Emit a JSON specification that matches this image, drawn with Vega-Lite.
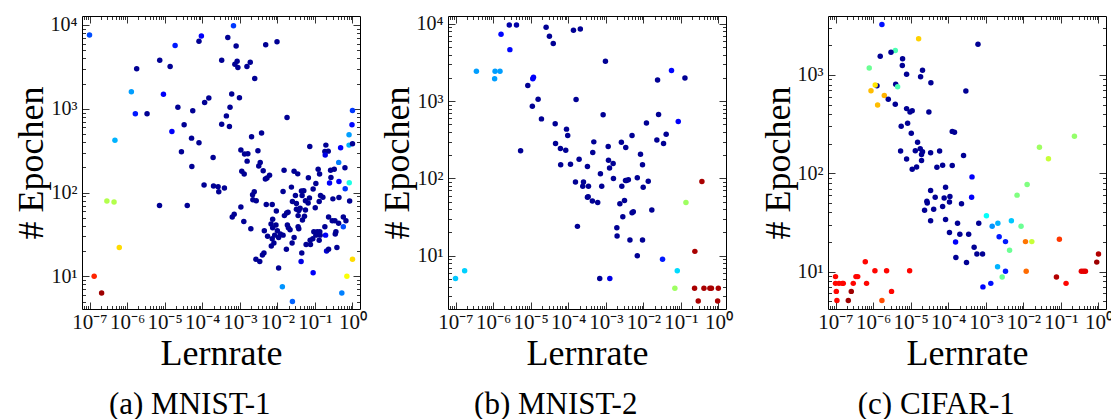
{
  "$schema": "https://vega.github.io/schema/vega-lite/v6.json",
  "background": "white",
  "padding": {"left": 12, "top": 13, "right": 0, "bottom": 0},
  "config": {
    "view": {"stroke": "black", "strokeWidth": 1},
    "axis": {"grid": false, "domain": false, "tickColor": "black", "tickWidth": 0.8, "labelFont": "Liberation Serif", "labelFontSize": 21, "labelColor": "#111111", "titleFont": "Liberation Serif", "titleFontSize": 36, "titleFontWeight": "normal", "titleColor": "black", "labelOverlap": false, "labelFlush": false, "labelBound": false},
    "axisBottom": {"labelPadding": 9, "titleY": 55, "titleBaseline": "alphabetic"},
    "axisLeft": {"labelPadding": 12, "titlePadding": 0, "labelFontSize": 20},
    "title": {"orient": "bottom", "anchor": "middle", "frame": "bounds", "font": "Liberation Serif", "fontSize": 31, "fontWeight": "normal", "color": "black", "baseline": "alphabetic", "offset": 19}
  },
  "datasets": {
    "mnist1": [
      {"lr":1e-7,"epochs":7600,"score":0.2},{"lr":6.8e-4,"epochs":9800,"score":0.18},{"lr":9.5e-5,"epochs":7400,"score":0.12},{"lr":8.2e-5,"epochs":6400,"score":0.02},{"lr":4.8e-4,"epochs":7100,"score":0.02},{"lr":1.9e-5,"epochs":5700,"score":0.15},{"lr":8.0e-4,"epochs":5600,"score":0.02},{"lr":4.9e-3,"epochs":5800,"score":0.02},{"lr":9.8e-3,"epochs":6300,"score":0.02},{"lr":7.4e-6,"epochs":3800,"score":0.02},{"lr":1.4e-5,"epochs":3200,"score":0.02},{"lr":1.8e-6,"epochs":3000,"score":0.02},{"lr":3.3e-4,"epochs":3800,"score":0.02},{"lr":8.5e-4,"epochs":3700,"score":0.02},{"lr":7.4e-4,"epochs":3400,"score":0.02},{"lr":8.9e-4,"epochs":3100,"score":0.02},{"lr":1.55e-3,"epochs":3200,"score":0.02},{"lr":1.9e-3,"epochs":3600,"score":0.02},{"lr":2.5e-3,"epochs":2300,"score":0.02},{"lr":1.3e-6,"epochs":1600,"score":0.28},{"lr":9.3e-6,"epochs":1490,"score":0.12},{"lr":1.5e-4,"epochs":1340,"score":0.02},{"lr":1.16e-4,"epochs":1190,"score":0.02},{"lr":6.1e-4,"epochs":1500,"score":0.02},{"lr":9.8e-4,"epochs":1350,"score":0.02},{"lr":2.25e-5,"epochs":1040,"score":0.02},{"lr":5.5e-4,"epochs":1040,"score":0.02},{"lr":1.66e-6,"epochs":870,"score":0.15},{"lr":3.4e-6,"epochs":870,"score":0.02},{"lr":5.6e-5,"epochs":944,"score":0.02},{"lr":4.4e-4,"epochs":822,"score":0.02},{"lr":1.0,"epochs":952,"score":0.18},{"lr":3.3e-5,"epochs":643,"score":0.02},{"lr":3.3e-4,"epochs":655,"score":0.02},{"lr":5.3e-4,"epochs":614,"score":0.02},{"lr":4.75e-7,"epochs":422,"score":0.3},{"lr":1.56e-5,"epochs":535,"score":0.12},{"lr":5.2e-5,"epochs":446,"score":0.02},{"lr":8.2e-5,"epochs":392,"score":0.02},{"lr":1.95e-4,"epochs":262,"score":0.02},{"lr":2.8e-5,"epochs":306,"score":0.02},{"lr":5.3e-5,"epochs":205,"score":0.02},{"lr":2.9e-7,"epochs":79,"score":0.55},{"lr":4.5e-7,"epochs":77,"score":0.55},{"lr":7.3e-6,"epochs":70,"score":0.02},{"lr":4.0e-5,"epochs":70,"score":0.02},{"lr":6.2e-7,"epochs":22,"score":0.66},{"lr":1.33e-7,"epochs":10,"score":0.84},{"lr":2.1e-7,"epochs":6.3,"score":0.97},{"lr":1.12e-4,"epochs":123,"score":0.02},{"lr":2.0e-4,"epochs":120,"score":0.02},{"lr":2.65e-4,"epochs":117,"score":0.02},{"lr":3.9e-4,"epochs":113,"score":0.02},{"lr":2.76e-4,"epochs":102,"score":0.02},
      {"lr":0.0181,"epochs":787,"score":0.02},{"lr":0.97,"epochs":643,"score":0.13},{"lr":0.81,"epochs":489,"score":0.28},{"lr":3.8e-3,"epochs":512,"score":0.02},{"lr":2.06e-3,"epochs":462,"score":0.02},{"lr":1.07e-3,"epochs":321,"score":0.02},{"lr":1.34e-3,"epochs":288,"score":0.02},{"lr":1.64e-3,"epochs":290,"score":0.02},{"lr":3.04e-3,"epochs":315,"score":0.02},{"lr":1.57e-3,"epochs":237,"score":0.02},{"lr":0.073,"epochs":355,"score":0.02},{"lr":0.196,"epochs":368,"score":0.02},{"lr":0.226,"epochs":312,"score":0.02},{"lr":0.184,"epochs":309,"score":0.02},{"lr":0.188,"epochs":280,"score":0.1},{"lr":0.483,"epochs":342,"score":0.12},{"lr":0.81,"epochs":368,"score":0.3},{"lr":1.0,"epochs":382,"score":0.02},{"lr":0.43,"epochs":229,"score":0.25},{"lr":3.5e-3,"epochs":229,"score":0.02},{"lr":3.2e-3,"epochs":207,"score":0.02},{"lr":1.13e-3,"epochs":179,"score":0.02},{"lr":1.31e-3,"epochs":166,"score":0.02},{"lr":4.2e-3,"epochs":182,"score":0.02},{"lr":0.0151,"epochs":185,"score":0.02},{"lr":0.0279,"epochs":179,"score":0.02},{"lr":0.0349,"epochs":167,"score":0.02},{"lr":6.2e-3,"epochs":161,"score":0.02},{"lr":5.3e-3,"epochs":149,"score":0.02},{"lr":4.8e-3,"epochs":145,"score":0.02},{"lr":0.122,"epochs":190,"score":0.02},{"lr":0.133,"epochs":166,"score":0.02},{"lr":0.261,"epochs":184,"score":0.02},{"lr":0.327,"epochs":190,"score":0.02},{"lr":0.63,"epochs":198,"score":0.02},{"lr":0.067,"epochs":150,"score":0.02},{"lr":0.267,"epochs":151,"score":0.02},{"lr":0.106,"epochs":128,"score":0.02},{"lr":0.245,"epochs":130,"score":0.12},{"lr":0.436,"epochs":135,"score":0.12},{"lr":0.82,"epochs":131,"score":0.4},{"lr":0.64,"epochs":111,"score":0.18},{"lr":0.0237,"epochs":116,"score":0.02},{"lr":0.0142,"epochs":103,"score":0.02},{"lr":0.0897,"epochs":110,"score":0.02},{"lr":0.0438,"epochs":104,"score":0.02},{"lr":0.0506,"epochs":105,"score":0.02},{"lr":2.43e-3,"epochs":102,"score":0.02},{"lr":2.19e-3,"epochs":94,"score":0.02},{"lr":2.23e-3,"epochs":82,"score":0.02},{"lr":2.74e-3,"epochs":80,"score":0.02},{"lr":0.0303,"epochs":92,"score":0.02},{"lr":0.0456,"epochs":92,"score":0.02},{"lr":0.056,"epochs":80,"score":0.02},{"lr":0.0716,"epochs":86,"score":0.02},{"lr":0.141,"epochs":92,"score":0.02},{"lr":0.163,"epochs":88,"score":0.02},{"lr":0.13,"epochs":78,"score":0.02},{"lr":0.301,"epochs":84,"score":0.02},{"lr":0.436,"epochs":87,"score":0.02},{"lr":0.84,"epochs":79,"score":0.02},{"lr":0.0252,"epochs":78,"score":0.02},{"lr":0.0322,"epochs":74,"score":0.02},{"lr":0.066,"epochs":75,"score":0.02},{"lr":5.07e-3,"epochs":72,"score":0.02},{"lr":7.3e-3,"epochs":72,"score":0.02},{"lr":1.07e-3,"epochs":67,"score":0.02},{"lr":0.0322,"epochs":63,"score":0.02},{"lr":0.0404,"epochs":65,"score":0.02},{"lr":0.056,"epochs":62,"score":0.02},{"lr":0.0193,"epochs":58,"score":0.02},{"lr":0.0372,"epochs":61,"score":0.02},{"lr":9.4e-3,"epochs":60,"score":0.02},{"lr":0.102,"epochs":66,"score":0.02},{"lr":7.1e-4,"epochs":55,"score":0.02},{"lr":6.3e-4,"epochs":51,"score":0.02},{"lr":1.28e-3,"epochs":45,"score":0.02},{"lr":0.0154,"epochs":53,"score":0.02},{"lr":0.0177,"epochs":57,"score":0.02},{"lr":0.0357,"epochs":53,"score":0.02},{"lr":0.0527,"epochs":52,"score":0.02},{"lr":0.0466,"epochs":47,"score":0.02},{"lr":7.5e-3,"epochs":48,"score":0.02},{"lr":6.8e-3,"epochs":42,"score":0.02},{"lr":9.2e-3,"epochs":41,"score":0.02},{"lr":0.0185,"epochs":41,"score":0.02},{"lr":0.0197,"epochs":38,"score":0.02},{"lr":0.0218,"epochs":36,"score":0.02},{"lr":0.0357,"epochs":39,"score":0.02},{"lr":0.0372,"epochs":37,"score":0.02},{"lr":0.231,"epochs":51,"score":0.02},{"lr":0.289,"epochs":46,"score":0.02},{"lr":0.341,"epochs":46,"score":0.02},{"lr":0.428,"epochs":43,"score":0.02},{"lr":0.57,"epochs":51,"score":0.02},{"lr":0.67,"epochs":46,"score":0.02},{"lr":0.57,"epochs":39,"score":0.2},{"lr":0.184,"epochs":39,"score":0.02},{"lr":1.97e-3,"epochs":37,"score":0.02},{"lr":4.5e-3,"epochs":35,"score":0.02},{"lr":7.5e-3,"epochs":38,"score":0.02},{"lr":0.01,"epochs":35,"score":0.02},{"lr":0.012,"epochs":32,"score":0.02},{"lr":0.0142,"epochs":31,"score":0.02},{"lr":0.0108,"epochs":29,"score":0.02},{"lr":8.5e-3,"epochs":31,"score":0.02},{"lr":5.5e-3,"epochs":30,"score":0.02},{"lr":0.0935,"epochs":34,"score":0.02},{"lr":0.115,"epochs":34,"score":0.02},{"lr":0.135,"epochs":34,"score":0.02},{"lr":0.106,"epochs":31,"score":0.02},{"lr":0.138,"epochs":31,"score":0.02},{"lr":0.362,"epochs":34,"score":0.02},{"lr":0.348,"epochs":32,"score":0.02},{"lr":0.192,"epochs":31,"score":0.12},{"lr":0.0279,"epochs":29,"score":0.02},{"lr":0.0746,"epochs":27,"score":0.02},{"lr":0.088,"epochs":28,"score":0.02},{"lr":0.13,"epochs":27,"score":0.02},{"lr":7.3e-3,"epochs":28,"score":0.02},{"lr":8.1e-3,"epochs":25,"score":0.02},{"lr":6.9e-3,"epochs":23,"score":0.02},{"lr":0.0247,"epochs":25,"score":0.02},{"lr":0.0583,"epochs":24,"score":0.02},{"lr":0.0762,"epochs":24,"score":0.02},{"lr":0.0174,"epochs":21,"score":0.02},{"lr":0.204,"epochs":20,"score":0.08},{"lr":0.231,"epochs":21,"score":0.02},{"lr":0.385,"epochs":22,"score":0.02},{"lr":0.0447,"epochs":19,"score":0.02},{"lr":0.0429,"epochs":15,"score":0.1},{"lr":2.69e-3,"epochs":16,"score":0.02},{"lr":4.0e-3,"epochs":18,"score":0.02},{"lr":4.4e-3,"epochs":19,"score":0.02},{"lr":3.4e-3,"epochs":15,"score":0.02},{"lr":0.0108,"epochs":12.6,"score":0.02},{"lr":1.0,"epochs":16,"score":0.66},{"lr":0.71,"epochs":10,"score":0.62},{"lr":0.0897,"epochs":11,"score":0.12},{"lr":0.0136,"epochs":7.5,"score":0.27},{"lr":0.52,"epochs":6.3,"score":0.25},{"lr":0.0252,"epochs":5.0,"score":0.22}
    ],
    "mnist2": [
      {"lr":1e-7,"epochs":5.1,"score":0.32},{"lr":1.75e-7,"epochs":6.4,"score":0.33},{"lr":3.6e-7,"epochs":2430,"score":0.28},{"lr":1.1e-6,"epochs":1940,"score":0.28},{"lr":1.13e-6,"epochs":2430,"score":0.28},{"lr":1.53e-6,"epochs":2430,"score":0.28},{"lr":1.63e-6,"epochs":7310,"score":0.13},{"lr":2.8e-6,"epochs":4630,"score":0.13},{"lr":2.7e-6,"epochs":9660,"score":0.04},{"lr":4.2e-6,"epochs":9660,"score":0.04},{"lr":5.4e-6,"epochs":228,"score":0.02},{"lr":8.4e-6,"epochs":1590,"score":0.02},{"lr":1.11e-5,"epochs":859,"score":0.02},{"lr":1.14e-5,"epochs":1940,"score":0.12},{"lr":1.19e-5,"epochs":2040,"score":0.12},{"lr":1.58e-5,"epochs":1060,"score":0.02},{"lr":1.94e-5,"epochs":589,"score":0.02},{"lr":2.58e-5,"epochs":9020,"score":0.02},{"lr":3.16e-5,"epochs":6890,"score":0.02},{"lr":4.0e-5,"epochs":5550,"score":0.02},{"lr":4.5e-5,"epochs":508,"score":0.02},{"lr":4.6e-5,"epochs":283,"score":0.02},{"lr":6.2e-5,"epochs":244,"score":0.02},{"lr":6.3e-5,"epochs":150,"score":0.02},{"lr":8.6e-5,"epochs":232,"score":0.02},{"lr":9.0e-5,"epochs":434,"score":0.02},{"lr":9.7e-5,"epochs":359,"score":0.02},{"lr":1.15e-4,"epochs":153,"score":0.02},{"lr":1.38e-4,"epochs":8240,"score":0.02},{"lr":1.56e-4,"epochs":90,"score":0.02},{"lr":1.62e-4,"epochs":1047,"score":0.02},{"lr":1.76e-4,"epochs":24,"score":0.02},{"lr":1.95e-4,"epochs":177,"score":0.02},{"lr":2.1e-4,"epochs":8570,"score":0.02},{"lr":2.55e-4,"epochs":90,"score":0.02},{"lr":2.44e-4,"epochs":79,"score":0.02},{"lr":3.25e-4,"epochs":57,"score":0.02},{"lr":3.25e-4,"epochs":143,"score":0.02},{"lr":3.4e-4,"epochs":58,"score":0.02},{"lr":3.46e-4,"epochs":79,"score":0.02},{"lr":4.4e-4,"epochs":51,"score":0.02},{"lr":4.5e-4,"epochs":216,"score":0.02},{"lr":4.8e-4,"epochs":297,"score":0.02},{"lr":6.1e-4,"epochs":49,"score":0.02},{"lr":6.9e-4,"epochs":5.1,"score":0.02},{"lr":7.2e-4,"epochs":115,"score":0.02},{"lr":7.8e-4,"epochs":79,"score":0.02},{"lr":8.5e-4,"epochs":664,"score":0.02},{"lr":9.8e-4,"epochs":3270,"score":0.02},{"lr":1.16e-3,"epochs":259,"score":0.02},{"lr":1.18e-3,"epochs":172,"score":0.02},{"lr":1.26e-3,"epochs":136,"score":0.02},{"lr":1.28e-3,"epochs":5.1,"score":0.1},{"lr":1.57e-3,"epochs":156,"score":0.02},{"lr":1.6e-3,"epochs":100,"score":0.02},{"lr":1.97e-3,"epochs":23,"score":0.02},{"lr":2.0e-3,"epochs":18,"score":0.02},{"lr":2.37e-3,"epochs":47,"score":0.02},{"lr":2.6e-3,"epochs":294,"score":0.02},{"lr":2.67e-3,"epochs":79,"score":0.02},{"lr":2.84e-3,"epochs":32,"score":0.02},{"lr":3.15e-3,"epochs":52,"score":0.02},{"lr":3.35e-3,"epochs":94,"score":0.02},{"lr":3.4e-3,"epochs":251,"score":0.02},{"lr":3.56e-3,"epochs":94,"score":0.02},{"lr":4.0e-3,"epochs":96,"score":0.02},{"lr":4.4e-3,"epochs":16,"score":0.02},{"lr":5.0e-3,"epochs":359,"score":0.02},{"lr":5.0e-3,"epochs":36,"score":0.02},{"lr":5.4e-3,"epochs":37,"score":0.02},{"lr":6.9e-3,"epochs":10,"score":0.02},{"lr":6.9e-3,"epochs":102,"score":0.02},{"lr":8.4e-3,"epochs":206,"score":0.02},{"lr":9.5e-3,"epochs":150,"score":0.02},{"lr":9.5e-3,"epochs":16,"score":0.02},{"lr":9.9e-3,"epochs":77,"score":0.02},{"lr":0.0135,"epochs":92,"score":0.02},{"lr":0.0121,"epochs":522,"score":0.02},{"lr":0.0168,"epochs":39,"score":0.02},{"lr":0.0229,"epochs":313,"score":0.02},{"lr":0.0239,"epochs":1880,"score":0.02},{"lr":0.0254,"epochs":670,"score":0.02},{"lr":0.0324,"epochs":9.0,"score":0.15},{"lr":0.0345,"epochs":283,"score":0.02},{"lr":0.0405,"epochs":373,"score":0.02},{"lr":0.0562,"epochs":2480,"score":0.13},{"lr":0.069,"epochs":3.8,"score":0.53},{"lr":0.08,"epochs":6.4,"score":0.34},{"lr":0.085,"epochs":545,"score":0.12},{"lr":0.128,"epochs":1995,"score":0.02},{"lr":0.136,"epochs":49,"score":0.53},{"lr":0.235,"epochs":11.4,"score":0.96},{"lr":0.362,"epochs":91,"score":0.96},{"lr":0.231,"epochs":3.8,"score":0.96},{"lr":0.289,"epochs":2.6,"score":0.96},{"lr":0.41,"epochs":3.8,"score":0.96},{"lr":0.59,"epochs":3.8,"score":0.96},{"lr":0.65,"epochs":3.8,"score":0.96},{"lr":0.99,"epochs":3.8,"score":0.96},{"lr":0.95,"epochs":2.6,"score":0.96}
    ],
    "cifar1": [
      {"lr":1.72e-6,"epochs":3270,"score":0.14},{"lr":1.63e-5,"epochs":2340,"score":0.67},{"lr":6.2e-4,"epochs":2050,"score":0.02},{"lr":3.9e-6,"epochs":1770,"score":0.45},{"lr":3.0e-6,"epochs":1700,"score":0.02},{"lr":1.55e-6,"epochs":1550,"score":0.02},{"lr":6.1e-6,"epochs":1460,"score":0.02},{"lr":6.0e-6,"epochs":1250,"score":0.02},{"lr":7.9e-7,"epochs":1180,"score":0.48},{"lr":2.07e-5,"epochs":1120,"score":0.02},{"lr":7.8e-6,"epochs":1020,"score":0.02},{"lr":1.84e-5,"epochs":961,"score":0.02},{"lr":3.46e-5,"epochs":836,"score":0.02},{"lr":1.27e-6,"epochs":779,"score":0.02},{"lr":1.14e-6,"epochs":791,"score":0.65},{"lr":4.0e-6,"epochs":803,"score":0.02},{"lr":4.5e-6,"epochs":761,"score":0.45},{"lr":8.8e-7,"epochs":693,"score":0.69},{"lr":2.95e-4,"epochs":688,"score":0.02},{"lr":1.99e-6,"epochs":617,"score":0.7},{"lr":2.54e-6,"epochs":566,"score":0.02},{"lr":3.9e-6,"epochs":503,"score":0.02},{"lr":1.32e-6,"epochs":495,"score":0.69},{"lr":7.8e-6,"epochs":455,"score":0.02},{"lr":1.1e-5,"epochs":434,"score":0.02},{"lr":9.6e-6,"epochs":421,"score":0.02},{"lr":3.06e-5,"epochs":421,"score":0.02},{"lr":8.3e-6,"epochs":323,"score":0.02},{"lr":5.6e-6,"epochs":301,"score":0.02},{"lr":1.04e-5,"epochs":255,"score":0.02},{"lr":1.28e-4,"epochs":267,"score":0.02},{"lr":1.47e-4,"epochs":261,"score":0.02},{"lr":1.53e-5,"epochs":207,"score":0.02},{"lr":5.4e-6,"epochs":169,"score":0.02},{"lr":1.33e-5,"epochs":170,"score":0.02},{"lr":1.8e-5,"epochs":178,"score":0.02},{"lr":2.07e-5,"epochs":166,"score":0.02},{"lr":1.95e-5,"epochs":155,"score":0.02},{"lr":3.4e-5,"epochs":162,"score":0.02},{"lr":5.9e-5,"epochs":169,"score":0.02},{"lr":2.56e-4,"epochs":152,"score":0.02},{"lr":7.8e-6,"epochs":140,"score":0.02},{"lr":1.95e-5,"epochs":135,"score":0.02},{"lr":1.44e-5,"epochs":116,"score":0.02},{"lr":1.1e-5,"epochs":110,"score":0.02},{"lr":5.0e-5,"epochs":115,"score":0.02},{"lr":7.1e-5,"epochs":121,"score":0.02},{"lr":1.28e-4,"epochs":120,"score":0.02},{"lr":4.3e-4,"epochs":92,"score":0.12},{"lr":3.4e-5,"epochs":67,"score":0.02},{"lr":8.5e-5,"epochs":72,"score":0.02},{"lr":2.7e-5,"epochs":52,"score":0.02},{"lr":2.77e-5,"epochs":50,"score":0.02},{"lr":4.5e-5,"epochs":57,"score":0.02},{"lr":7.8e-5,"epochs":56,"score":0.02},{"lr":1.11e-4,"epochs":58,"score":0.02},{"lr":1.08e-4,"epochs":51,"score":0.02},{"lr":4.2e-4,"epochs":57,"score":0.12},{"lr":2.26e-4,"epochs":49,"score":0.02},{"lr":7.1e-5,"epochs":46,"score":0.02},{"lr":2.35e-5,"epochs":42,"score":0.02},{"lr":4.1e-5,"epochs":43,"score":0.02},{"lr":3.4e-5,"epochs":33,"score":0.02},{"lr":8.5e-5,"epochs":34,"score":0.02},{"lr":1.77e-4,"epochs":31,"score":0.02},{"lr":6.5e-4,"epochs":31,"score":0.02},{"lr":1.04e-3,"epochs":37,"score":0.38},{"lr":1.48e-3,"epochs":29,"score":0.27},{"lr":1.08e-4,"epochs":25,"score":0.02},{"lr":2.04e-4,"epochs":24,"score":0.02},{"lr":3.5e-4,"epochs":24,"score":0.02},
      {"lr":1e-7,"epochs":8.9,"score":0.87},{"lr":1e-7,"epochs":7.6,"score":0.87},{"lr":1.24e-7,"epochs":7.6,"score":0.87},{"lr":1.52e-7,"epochs":7.6,"score":0.87},{"lr":1.61e-7,"epochs":7.6,"score":0.87},{"lr":1.05e-7,"epochs":6.3,"score":0.87},{"lr":1.09e-7,"epochs":5.1,"score":0.87},{"lr":2.19e-7,"epochs":5.1,"score":0.97},{"lr":2.63e-7,"epochs":6.3,"score":0.97},{"lr":2.97e-7,"epochs":7.6,"score":0.87},{"lr":3.5e-7,"epochs":8.9,"score":0.87},{"lr":3.9e-7,"epochs":8.9,"score":0.87},{"lr":6.2e-7,"epochs":12.6,"score":0.87},{"lr":6.7e-7,"epochs":7.6,"score":0.87},{"lr":1.12e-6,"epochs":10.2,"score":0.87},{"lr":1.72e-6,"epochs":5.1,"score":0.8},{"lr":2.29e-6,"epochs":10.2,"score":0.87},{"lr":3.1e-6,"epochs":6.3,"score":0.87},{"lr":9.4e-6,"epochs":10.2,"score":0.87},
      {"lr":1.57e-4,"epochs":20,"score":0.12},{"lr":3.07e-4,"epochs":12.4,"score":0.02},{"lr":1.6e-4,"epochs":13.9,"score":0.02},{"lr":4.9e-4,"epochs":17.7,"score":0.02},{"lr":5.8e-4,"epochs":15.1,"score":0.02},{"lr":8.2e-4,"epochs":15.1,"score":0.02},{"lr":8.4e-4,"epochs":7.0,"score":0.13},{"lr":1.36e-3,"epochs":7.6,"score":0.14},
      {"lr":2.1e-3,"epochs":31,"score":0.3},{"lr":2.27e-3,"epochs":22.7,"score":0.15},{"lr":3.35e-3,"epochs":20.2,"score":0.15},{"lr":4.8e-3,"epochs":33,"score":0.32},{"lr":4.3e-3,"epochs":16.5,"score":0.48},{"lr":8.7e-3,"epochs":29,"score":0.48},{"lr":6.8e-3,"epochs":60,"score":0.5},{"lr":0.0126,"epochs":77,"score":0.5},{"lr":0.0114,"epochs":20.2,"score":0.76},{"lr":0.0168,"epochs":20.2,"score":0.57},{"lr":0.0119,"epochs":10.1,"score":0.77},{"lr":0.0268,"epochs":184,"score":0.53},{"lr":0.0466,"epochs":141,"score":0.57},{"lr":0.229,"epochs":238,"score":0.52},{"lr":0.091,"epochs":21.3,"score":0.82},{"lr":0.076,"epochs":8.8,"score":0.95},{"lr":0.137,"epochs":7.6,"score":0.87},{"lr":0.35,"epochs":10.1,"score":0.9},{"lr":0.4,"epochs":10.1,"score":0.9},{"lr":0.45,"epochs":10.1,"score":0.9},{"lr":0.9,"epochs":12.5,"score":0.97},{"lr":1.0,"epochs":15.1,"score":0.95},{"lr":2.06e-3,"epochs":11.2,"score":0.3},{"lr":2.73e-3,"epochs":8.8,"score":0.48},{"lr":3.35e-3,"epochs":10.1,"score":0.15}
    ]
  },
  "spacing": 11,
  "hconcat": [
    {
      "width": 278, "height": 293,
      "data": {"name": "mnist1"},
      "title": {"text": "(a) MNIST-1"},
      "layer": [
        {"mark": {"type": "circle", "size": 30, "opacity": 1},
         "encoding": {
           "x": {"field": "lr", "type": "quantitative", "scale": {"type": "log", "domain": [6.31e-8, 1.585], "nice": false},
                 "axis": {"orient": "bottom", "title": "Lernrate", "values": [7e-8,8e-8,9e-8,1e-7,2e-7,3e-7,4e-7,5e-7,6e-7,7e-7,8e-7,9e-7,1e-6,2e-6,3e-6,4e-6,5e-6,6e-6,7e-6,8e-6,9e-6,1e-5,2e-5,3e-5,4e-5,5e-5,6e-5,7e-5,8e-5,9e-5,1e-4,2e-4,3e-4,4e-4,5e-4,6e-4,7e-4,8e-4,9e-4,0.001,0.002,0.003,0.004,0.005,0.006,0.007,0.008,0.009,0.01,0.02,0.03,0.04,0.05,0.06,0.07,0.08,0.09,0.1,0.2,0.3,0.4,0.5,0.6,0.7,0.8,0.9,1],
                          "labelExpr": "abs(log(datum.value)/LN10 - round(log(datum.value)/LN10)) < 0.01 ? '10' + ['⁻⁷','⁻⁶','⁻⁵','⁻⁴','⁻³','⁻²','⁻¹','⁰'][round(log(datum.value)/LN10)+7] : ''",
                          "tickSize": {"condition": {"test": "abs(log(datum.value)/LN10 - round(log(datum.value)/LN10)) < 0.01", "value": -7}, "value": -3.5}}},
           "y": {"field": "epochs", "type": "quantitative", "scale": {"type": "log", "domain": [4.07, 12800], "nice": false},
                 "axis": {"orient": "left", "title": "# Epochen", "values": [5,6,7,8,9,10,20,30,40,50,60,70,80,90,100,200,300,400,500,600,700,800,900,1000,2000,3000,4000,5000,6000,7000,8000,9000,10000],
                          "labelExpr": "abs(log(datum.value)/LN10 - round(log(datum.value)/LN10)) < 0.01 ? '10' + ['⁰','¹','²','³','⁴'][round(log(datum.value)/LN10)] : ''",
                          "tickSize": {"condition": {"test": "abs(log(datum.value)/LN10 - round(log(datum.value)/LN10)) < 0.01", "value": -7}, "value": -3.5}}},
           "color": {"field": "score", "type": "quantitative", "legend": null, "scale": {"domain": [0, 0.125, 0.375, 0.625, 0.875, 1], "range": ["#000080", "#0000ff", "#00ffff", "#ffff00", "#ff0000", "#800000"], "interpolate": "rgb"}}
         }},
        {"mark": {"type": "circle", "size": 30, "opacity": 0},
         "encoding": {
           "x": {"field": "lr", "type": "quantitative", "axis": {"orient": "top", "labels": false, "title": null, "values": [7e-8,8e-8,9e-8,1e-7,2e-7,3e-7,4e-7,5e-7,6e-7,7e-7,8e-7,9e-7,1e-6,2e-6,3e-6,4e-6,5e-6,6e-6,7e-6,8e-6,9e-6,1e-5,2e-5,3e-5,4e-5,5e-5,6e-5,7e-5,8e-5,9e-5,1e-4,2e-4,3e-4,4e-4,5e-4,6e-4,7e-4,8e-4,9e-4,0.001,0.002,0.003,0.004,0.005,0.006,0.007,0.008,0.009,0.01,0.02,0.03,0.04,0.05,0.06,0.07,0.08,0.09,0.1,0.2,0.3,0.4,0.5,0.6,0.7,0.8,0.9,1],
                 "tickSize": {"condition": {"test": "abs(log(datum.value)/LN10 - round(log(datum.value)/LN10)) < 0.01", "value": -7}, "value": -3.5}}},
           "y": {"field": "epochs", "type": "quantitative", "axis": {"orient": "right", "labels": false, "title": null, "values": [5,6,7,8,9,10,20,30,40,50,60,70,80,90,100,200,300,400,500,600,700,800,900,1000,2000,3000,4000,5000,6000,7000,8000,9000,10000],
                 "tickSize": {"condition": {"test": "abs(log(datum.value)/LN10 - round(log(datum.value)/LN10)) < 0.01", "value": -7}, "value": -3.5}}}
         }}
      ],
      "resolve": {"axis": {"x": "independent", "y": "independent"}}
    },
    {
      "spacing": 26,
      "hconcat": [
        {
          "width": 278, "height": 293,
          "data": {"name": "mnist2"},
          "title": {"text": "(b) MNIST-2"},
          "layer": [
            {"mark": {"type": "circle", "size": 30, "opacity": 1},
             "encoding": {
               "x": {"field": "lr", "type": "quantitative", "scale": {"type": "log", "domain": [6.31e-8, 1.585], "nice": false},
                     "axis": {"orient": "bottom", "title": "Lernrate", "values": [7e-8,8e-8,9e-8,1e-7,2e-7,3e-7,4e-7,5e-7,6e-7,7e-7,8e-7,9e-7,1e-6,2e-6,3e-6,4e-6,5e-6,6e-6,7e-6,8e-6,9e-6,1e-5,2e-5,3e-5,4e-5,5e-5,6e-5,7e-5,8e-5,9e-5,1e-4,2e-4,3e-4,4e-4,5e-4,6e-4,7e-4,8e-4,9e-4,0.001,0.002,0.003,0.004,0.005,0.006,0.007,0.008,0.009,0.01,0.02,0.03,0.04,0.05,0.06,0.07,0.08,0.09,0.1,0.2,0.3,0.4,0.5,0.6,0.7,0.8,0.9,1],
                              "labelExpr": "abs(log(datum.value)/LN10 - round(log(datum.value)/LN10)) < 0.01 ? '10' + ['⁻⁷','⁻⁶','⁻⁵','⁻⁴','⁻³','⁻²','⁻¹','⁰'][round(log(datum.value)/LN10)+7] : ''",
                              "tickSize": {"condition": {"test": "abs(log(datum.value)/LN10 - round(log(datum.value)/LN10)) < 0.01", "value": -7}, "value": -3.5}}},
               "y": {"field": "epochs", "type": "quantitative", "scale": {"type": "log", "domain": [2.05, 12600], "nice": false},
                     "axis": {"orient": "left", "title": "# Epochen", "values": [3,4,5,6,7,8,9,10,20,30,40,50,60,70,80,90,100,200,300,400,500,600,700,800,900,1000,2000,3000,4000,5000,6000,7000,8000,9000,10000],
                              "labelExpr": "abs(log(datum.value)/LN10 - round(log(datum.value)/LN10)) < 0.01 ? '10' + ['⁰','¹','²','³','⁴'][round(log(datum.value)/LN10)] : ''",
                              "tickSize": {"condition": {"test": "abs(log(datum.value)/LN10 - round(log(datum.value)/LN10)) < 0.01", "value": -7}, "value": -3.5}}},
               "color": {"field": "score", "type": "quantitative", "legend": null, "scale": {"domain": [0, 0.125, 0.375, 0.625, 0.875, 1], "range": ["#000080", "#0000ff", "#00ffff", "#ffff00", "#ff0000", "#800000"], "interpolate": "rgb"}}
             }},
            {"mark": {"type": "circle", "size": 30, "opacity": 0},
             "encoding": {
               "x": {"field": "lr", "type": "quantitative", "axis": {"orient": "top", "labels": false, "title": null, "values": [7e-8,8e-8,9e-8,1e-7,2e-7,3e-7,4e-7,5e-7,6e-7,7e-7,8e-7,9e-7,1e-6,2e-6,3e-6,4e-6,5e-6,6e-6,7e-6,8e-6,9e-6,1e-5,2e-5,3e-5,4e-5,5e-5,6e-5,7e-5,8e-5,9e-5,1e-4,2e-4,3e-4,4e-4,5e-4,6e-4,7e-4,8e-4,9e-4,0.001,0.002,0.003,0.004,0.005,0.006,0.007,0.008,0.009,0.01,0.02,0.03,0.04,0.05,0.06,0.07,0.08,0.09,0.1,0.2,0.3,0.4,0.5,0.6,0.7,0.8,0.9,1],
                     "tickSize": {"condition": {"test": "abs(log(datum.value)/LN10 - round(log(datum.value)/LN10)) < 0.01", "value": -7}, "value": -3.5}}},
               "y": {"field": "epochs", "type": "quantitative", "axis": {"orient": "right", "labels": false, "title": null, "values": [3,4,5,6,7,8,9,10,20,30,40,50,60,70,80,90,100,200,300,400,500,600,700,800,900,1000,2000,3000,4000,5000,6000,7000,8000,9000,10000],
                     "tickSize": {"condition": {"test": "abs(log(datum.value)/LN10 - round(log(datum.value)/LN10)) < 0.01", "value": -7}, "value": -3.5}}}
             }}
          ],
          "resolve": {"axis": {"x": "independent", "y": "independent"}}
        },
        {
          "width": 278, "height": 293,
          "data": {"name": "cifar1"},
          "title": {"text": "(c) CIFAR-1"},
          "layer": [
            {"mark": {"type": "circle", "size": 30, "opacity": 1},
             "encoding": {
               "x": {"field": "lr", "type": "quantitative", "scale": {"type": "log", "domain": [6.31e-8, 1.585], "nice": false},
                     "axis": {"orient": "bottom", "title": "Lernrate", "values": [7e-8,8e-8,9e-8,1e-7,2e-7,3e-7,4e-7,5e-7,6e-7,7e-7,8e-7,9e-7,1e-6,2e-6,3e-6,4e-6,5e-6,6e-6,7e-6,8e-6,9e-6,1e-5,2e-5,3e-5,4e-5,5e-5,6e-5,7e-5,8e-5,9e-5,1e-4,2e-4,3e-4,4e-4,5e-4,6e-4,7e-4,8e-4,9e-4,0.001,0.002,0.003,0.004,0.005,0.006,0.007,0.008,0.009,0.01,0.02,0.03,0.04,0.05,0.06,0.07,0.08,0.09,0.1,0.2,0.3,0.4,0.5,0.6,0.7,0.8,0.9,1],
                              "labelExpr": "abs(log(datum.value)/LN10 - round(log(datum.value)/LN10)) < 0.01 ? '10' + ['⁻⁷','⁻⁶','⁻⁵','⁻⁴','⁻³','⁻²','⁻¹','⁰'][round(log(datum.value)/LN10)+7] : ''",
                              "tickSize": {"condition": {"test": "abs(log(datum.value)/LN10 - round(log(datum.value)/LN10)) < 0.01", "value": -7}, "value": -3.5}}},
               "y": {"field": "epochs", "type": "quantitative", "scale": {"type": "log", "domain": [4.17, 3980], "nice": false},
                     "axis": {"orient": "left", "title": "# Epochen", "values": [5,6,7,8,9,10,20,30,40,50,60,70,80,90,100,200,300,400,500,600,700,800,900,1000,2000,3000],
                              "labelExpr": "abs(log(datum.value)/LN10 - round(log(datum.value)/LN10)) < 0.01 ? '10' + ['⁰','¹','²','³','⁴'][round(log(datum.value)/LN10)] : ''",
                              "tickSize": {"condition": {"test": "abs(log(datum.value)/LN10 - round(log(datum.value)/LN10)) < 0.01", "value": -7}, "value": -3.5}}},
               "color": {"field": "score", "type": "quantitative", "legend": null, "scale": {"domain": [0, 0.125, 0.375, 0.625, 0.875, 1], "range": ["#000080", "#0000ff", "#00ffff", "#ffff00", "#ff0000", "#800000"], "interpolate": "rgb"}}
             }},
            {"mark": {"type": "circle", "size": 30, "opacity": 0},
             "encoding": {
               "x": {"field": "lr", "type": "quantitative", "axis": {"orient": "top", "labels": false, "title": null, "values": [7e-8,8e-8,9e-8,1e-7,2e-7,3e-7,4e-7,5e-7,6e-7,7e-7,8e-7,9e-7,1e-6,2e-6,3e-6,4e-6,5e-6,6e-6,7e-6,8e-6,9e-6,1e-5,2e-5,3e-5,4e-5,5e-5,6e-5,7e-5,8e-5,9e-5,1e-4,2e-4,3e-4,4e-4,5e-4,6e-4,7e-4,8e-4,9e-4,0.001,0.002,0.003,0.004,0.005,0.006,0.007,0.008,0.009,0.01,0.02,0.03,0.04,0.05,0.06,0.07,0.08,0.09,0.1,0.2,0.3,0.4,0.5,0.6,0.7,0.8,0.9,1],
                     "tickSize": {"condition": {"test": "abs(log(datum.value)/LN10 - round(log(datum.value)/LN10)) < 0.01", "value": -7}, "value": -3.5}}},
               "y": {"field": "epochs", "type": "quantitative", "axis": {"orient": "right", "labels": false, "title": null, "values": [5,6,7,8,9,10,20,30,40,50,60,70,80,90,100,200,300,400,500,600,700,800,900,1000,2000,3000],
                     "tickSize": {"condition": {"test": "abs(log(datum.value)/LN10 - round(log(datum.value)/LN10)) < 0.01", "value": -7}, "value": -3.5}}}
             }}
          ],
          "resolve": {"axis": {"x": "independent", "y": "independent"}}
        }
      ]
    }
  ]
}
